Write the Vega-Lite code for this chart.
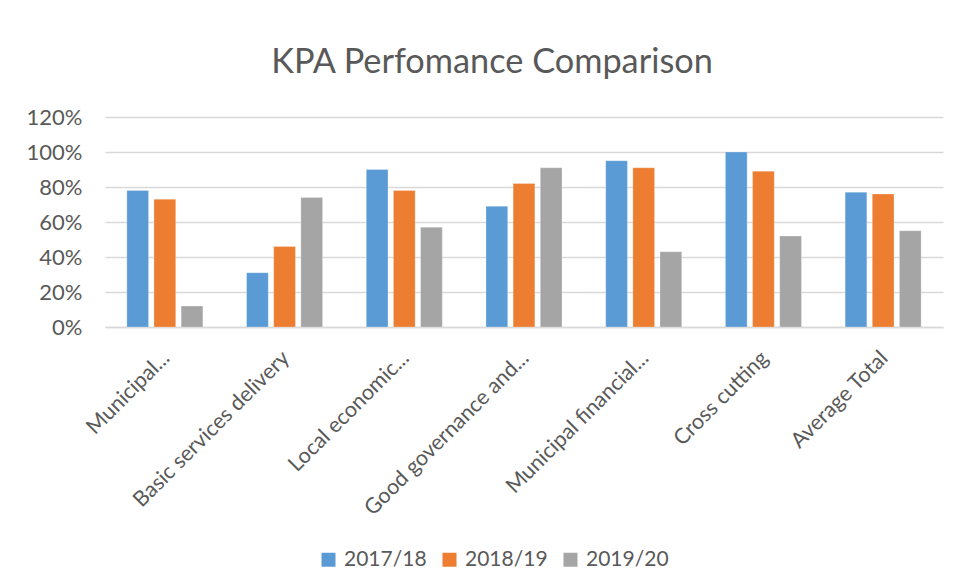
{
  "$schema": "https://vega.github.io/schema/vega-lite/v6.json",
  "width": 838,
  "height": 210,
  "autosize": {"type": "none"},
  "padding": {"left": 105, "top": 117, "right": 16, "bottom": 256},
  "background": "white",
  "title": {
    "text": "KPA Perfomance Comparison",
    "font": "Lato",
    "fontSize": 34.3,
    "fontWeight": "normal",
    "color": "#595959",
    "anchor": "middle",
    "dx": -32,
    "offset": 26
  },
  "data": {
    "values": [
      {"kpa": "Municipal...", "year": "2017/18", "value": 0.78},
      {"kpa": "Municipal...", "year": "2018/19", "value": 0.73},
      {"kpa": "Municipal...", "year": "2019/20", "value": 0.12},
      {"kpa": "Basic services delivery", "year": "2017/18", "value": 0.31},
      {"kpa": "Basic services delivery", "year": "2018/19", "value": 0.46},
      {"kpa": "Basic services delivery", "year": "2019/20", "value": 0.74},
      {"kpa": "Local economic...", "year": "2017/18", "value": 0.90},
      {"kpa": "Local economic...", "year": "2018/19", "value": 0.78},
      {"kpa": "Local economic...", "year": "2019/20", "value": 0.57},
      {"kpa": "Good governance and...", "year": "2017/18", "value": 0.69},
      {"kpa": "Good governance and...", "year": "2018/19", "value": 0.82},
      {"kpa": "Good governance and...", "year": "2019/20", "value": 0.91},
      {"kpa": "Municipal financial...", "year": "2017/18", "value": 0.95},
      {"kpa": "Municipal financial...", "year": "2018/19", "value": 0.91},
      {"kpa": "Municipal financial...", "year": "2019/20", "value": 0.43},
      {"kpa": "Cross cutting", "year": "2017/18", "value": 1.00},
      {"kpa": "Cross cutting", "year": "2018/19", "value": 0.89},
      {"kpa": "Cross cutting", "year": "2019/20", "value": 0.52},
      {"kpa": "Average Total", "year": "2017/18", "value": 0.77},
      {"kpa": "Average Total", "year": "2018/19", "value": 0.76},
      {"kpa": "Average Total", "year": "2019/20", "value": 0.55}
    ]
  },
  "mark": {"type": "bar", "stroke": "white", "strokeOpacity": 0.5, "strokeWidth": 0.5},
  "encoding": {
    "x": {
      "field": "kpa",
      "type": "nominal",
      "sort": null,
      "scale": {"paddingInner": 0.365, "paddingOuter": 0.1825},
      "axis": {
        "title": null,
        "domain": true,
        "domainColor": "#d9d9d9",
        "domainWidth": 1.3,
        "ticks": false,
        "labelAngle": -45,
        "labelAlign": "right",
        "labelBaseline": "top",
        "labelPadding": 20,
        "labelOffset": -6,
        "labelFont": "Lato",
        "labelFontSize": 21.5,
        "labelColor": "#595959",
        "labelLimit": 400
      }
    },
    "xOffset": {
      "field": "year",
      "type": "nominal",
      "scale": {"paddingInner": 0.2, "paddingOuter": 0}
    },
    "y": {
      "field": "value",
      "type": "quantitative",
      "scale": {"domain": [0, 1.2], "nice": false},
      "axis": {
        "title": null,
        "values": [0, 0.2, 0.4, 0.6, 0.8, 1.0, 1.2],
        "format": ".0%",
        "domain": false,
        "ticks": false,
        "grid": true,
        "gridColor": "#d9d9d9",
        "gridWidth": 1.3,
        "labelPadding": 23,
        "labelFont": "Lato",
        "labelFontSize": 22,
        "labelColor": "#595959"
      }
    },
    "color": {
      "field": "year",
      "type": "nominal",
      "scale": {"domain": ["2017/18", "2018/19", "2019/20"], "range": ["#5b9bd5", "#ed7d31", "#a5a5a5"]},
      "legend": {
        "title": null,
        "orient": "none",
        "legendX": 213,
        "legendY": 432,
        "direction": "horizontal",
        "symbolType": "square",
        "symbolSize": 196,
        "symbolStrokeWidth": 0,
        "labelFont": "Lato",
        "labelFontSize": 21,
        "labelColor": "#595959",
        "labelOffset": 5,
        "columnPadding": 12,
        "padding": 0
      }
    }
  },
  "config": {
    "view": {"stroke": null}
  }
}
